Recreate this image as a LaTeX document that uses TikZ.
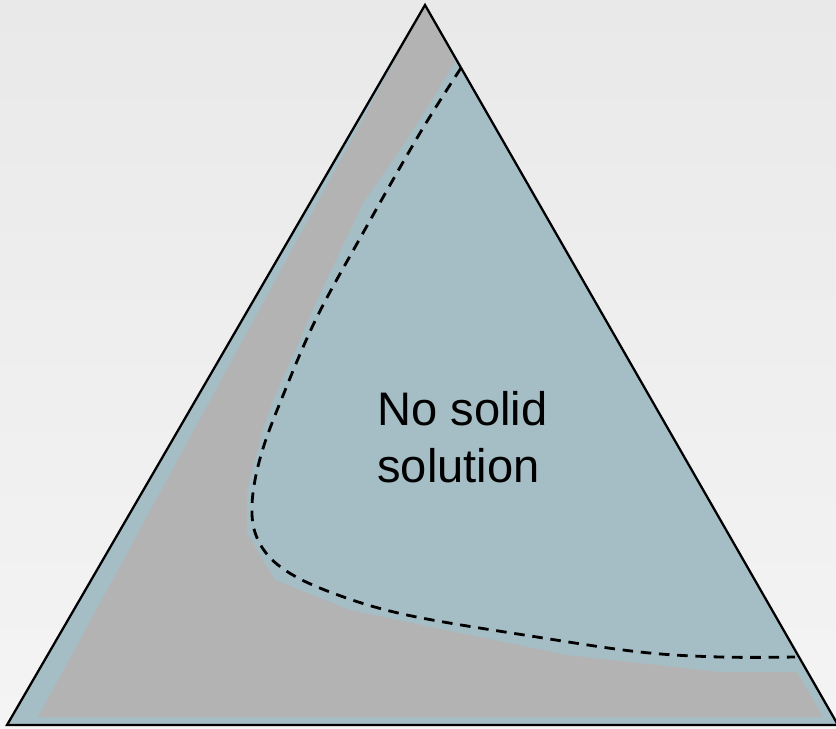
\documentclass[tikz,border=0pt]{standalone}
\usepackage{fontspec}
\setmainfont{Liberation Sans}
\usepackage{tikz}
\usetikzlibrary{positioning}

\definecolor{phaseblue}{RGB}{165,190,198}
\definecolor{phasegray}{RGB}{179,179,179}
\definecolor{bgtop}{RGB}{233,233,233}
\definecolor{bgbottom}{RGB}{244,244,244}

\begin{document}
\begin{tikzpicture}[
  x=0.02cm, y=-0.02cm,
  region/.style={draw=none},
  outline/.style={draw=black, line width=1.3pt, line join=miter},
  boundary/.style={draw=black, line width=1.6pt, dash pattern=on 6pt off 4.4pt},
  label/.style={font=\fontsize{26.8}{32.4}\selectfont, align=left, inner sep=0pt}
]
  % background
  \shade[top color=bgtop, bottom color=bgbottom] (0,0) rectangle (836,728);
  \useasboundingbox (0,0) rectangle (836,728);

  % corners of the diagram
  \coordinate (top) at (425,5);
  \coordinate (left) at (7,725);
  \coordinate (right) at (838,725);

  % single-phase field
  \fill[region, phaseblue] (top) -- (left) -- (right) -- cycle;

  % solid solution field
  \fill[region, phasegray] (top) -- (38,717) -- (823,717) -- (797,672)
    -- (720,672) -- (567,655) -- (460,633) -- (350,610) -- (275,580)
    -- (247,533) -- (247,493) -- (253,467) -- (263,430) -- (273,400)
    -- (292,358) -- (317,300) -- (363,203) -- (400,150) -- (432,100)
    -- (455,62) -- cycle;

  % miscibility limit
  \draw[boundary] plot[smooth, tension=0.6] coordinates {
    (461,68) (420,133) (363,233) (317,317) (284,393) (261,455)
    (252,505) (258,540) (282,568) (330,592) (407,615) (537,637)
    (640,652) (720,657) (795,657)};

  \draw[outline] (top) -- (left) -- (right) -- cycle;

  \node[label, anchor=base west] (nosolid) at (377,482)
    {No solid\\solution};
\end{tikzpicture}
\end{document}
